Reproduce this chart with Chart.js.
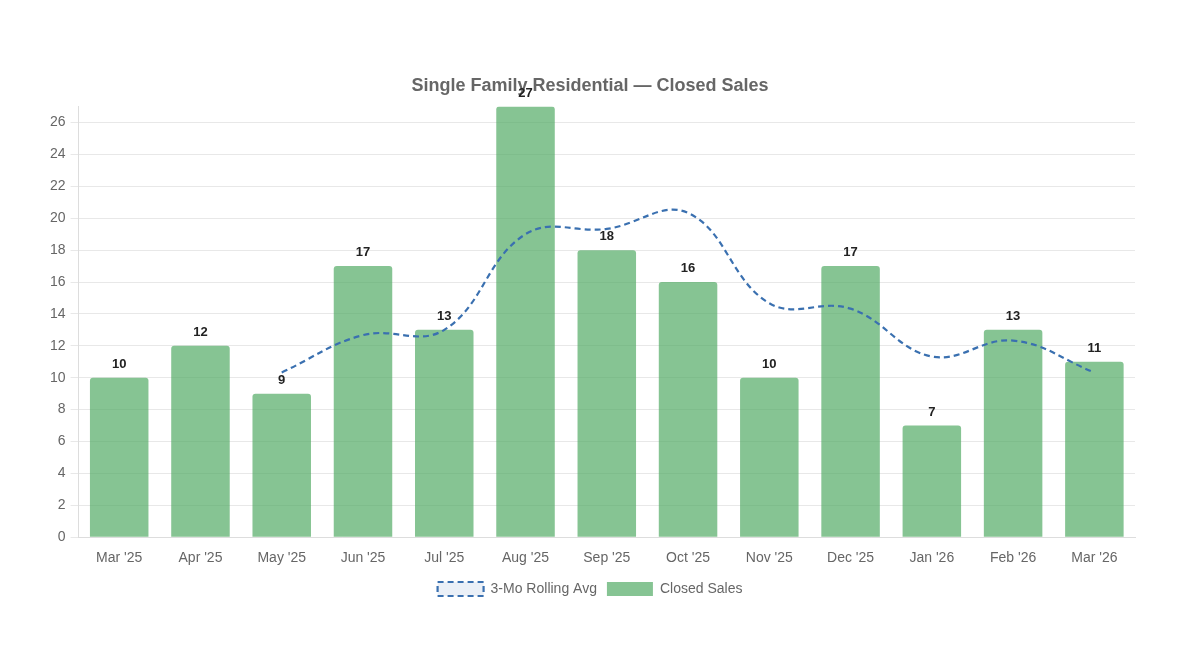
<!DOCTYPE html>
<html>
<head>
<meta charset="utf-8">
<script src="https://cdn.jsdelivr.net/npm/chart.js@4"></script>
<style>
  html, body { margin: 0; padding: 0; background: #fff; }
  #wrap { width: 1200px; height: 656px; }
</style>
</head>
<body>
<div id="wrap"><canvas id="salesChart"></canvas></div>
<script>
var months = ["Mar '25","Apr '25","May '25","Jun '25","Jul '25","Aug '25","Sep '25","Oct '25","Nov '25","Dec '25","Jan '26","Feb '26","Mar '26"];
var closedSales = [10, 12, 9, 17, 13, 27, 18, 16, 10, 17, 7, 13, 11];
var rollingAvg = [null, null, 10.33, 12.67, 13, 19, 19.33, 20.33, 14.67, 14.33, 11.33, 12.33, 10.33];
var yTicks = [0, 2, 4, 6, 8, 10, 12, 14, 16, 18, 20, 22, 24, 26];

Chart.defaults.font.family = "'Liberation Sans', Arial, Helvetica, sans-serif";
Chart.defaults.font.size = 14;
Chart.defaults.color = "#666";

// bold value above each bar
var barLabels = {
  id: "barLabels",
  afterDatasetsDraw: function(chart) {
    var ctx = chart.ctx;
    var meta = chart.getDatasetMeta(1);
    ctx.save();
    ctx.font = "bold 13px 'Liberation Sans', Arial, sans-serif";
    ctx.fillStyle = "#222";
    ctx.textAlign = "center";
    ctx.textBaseline = "bottom";
    meta.data.forEach(function(bar, i) {
      ctx.fillText(closedSales[i], bar.x, bar.y - 7);
    });
    ctx.restore();
  }
};

var cx = document.getElementById("salesChart");
var myChart = new Chart(cx, {
  type: "bar",
  data: {
    labels: months,
    datasets: [{
      type: "line",
      label: "3-Mo Rolling Avg",
      data: rollingAvg,
      borderColor: "#3a70b0",
      backgroundColor: "rgba(58, 112, 176, 0.1)",
      borderWidth: 2.2,
      borderDash: [6, 4],
      tension: 0.4,
      pointRadius: 0,
      pointHoverRadius: 0,
      fill: false,
      order: 0
    },
    {
      label: "Closed Sales",
      data: closedSales,
      backgroundColor: "rgba(76, 168, 96, 0.68)",
      borderColor: "rgba(76, 168, 96, 0.68)",
      borderWidth: 0,
      borderRadius: 3,
      order: 1
    }]
  },
  options: {
    responsive: true,
    maintainAspectRatio: false,
    animation: false,
    layout: { padding: { top: 75, left: 45, right: 65, bottom: 50 } },
    plugins: {
      title: {
        display: true,
        text: "Single Family Residential \u2014 Closed Sales",
        color: "#666",
        font: { size: 18, weight: "bold" },
        padding: { top: 0, bottom: 10 }
      },
      legend: {
        position: "bottom",
        labels: { boxWidth: 46, boxHeight: 14, padding: 10, color: "#666" }
      },
      tooltip: { enabled: false }
    },
    scales: {
      x: {
        grid: { display: false },
        border: { color: "#ddd" },
        ticks: { padding: 5 }
      },
      y: {
        min: 0,
        max: 27,
        afterBuildTicks: function(axis) {
          axis.ticks = yTicks.map(function(v) { return { value: v }; });
        },
        grid: { color: "#e8e8e8" },
        border: { color: "#ddd" },
        ticks: { padding: 5 }
      }
    }
  },
  plugins: [barLabels]
});
</script>
</body>
</html>
